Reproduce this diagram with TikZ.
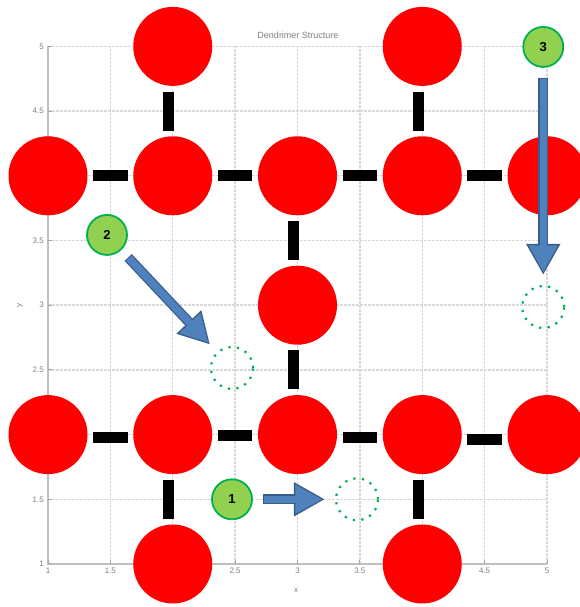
\documentclass[tikz,border=0pt]{standalone}
\usepackage{fontspec}
\setmainfont{Liberation Sans}
\usetikzlibrary{arrows.meta}
\definecolor{atomred}{HTML}{FF0000}
\definecolor{gfill}{HTML}{92D050}
\definecolor{gline}{HTML}{00B050}
\definecolor{ablue}{HTML}{4F81BD}
\definecolor{adark}{HTML}{385D8A}
\definecolor{gridc}{HTML}{D9D9D9}
\definecolor{axisc}{HTML}{BFBFBF}
\definecolor{tickc}{HTML}{7F7F7F}
\begin{document}
\begin{tikzpicture}[
  atom/.style={circle, fill=atomred, minimum size=79pt, inner sep=0pt},
  bondline/.style={line width=11pt, black, shorten <=5.5pt, shorten >=5.5pt},
  site/.style={circle, fill=gfill, draw=gline, line width=1.8pt, minimum size=40pt, inner sep=0pt, font=\bfseries\fontsize{13}{13}\selectfont},
  target/.style={circle, draw=gline, line width=2.2pt, dash pattern=on 2.2pt off 6.4pt, minimum size=42pt, inner sep=0pt},
  moveout/.style={adark, line width=10pt, -{Triangle[length=31pt,width=32pt]}, shorten <=10pt, shorten >=10pt},
  movein/.style={ablue, line width=7.5pt, -{Triangle[length=27pt,width=27pt]}, shorten <=11pt, shorten >=12.5pt},
  gridline/.style={gridc, line width=1.4pt, dash pattern=on 3pt off 1pt},
  axisline/.style={axisc, line width=2.2pt},
  ticklabel/.style={tickc, font=\fontsize{8}{8}\selectfont, inner sep=1pt},
  axlabel/.style={tickc, font=\fontsize{8}{8}\selectfont, inner sep=1pt},
  titlelabel/.style={tickc, font=\fontsize{9}{9}\selectfont, inner sep=1pt}
]
\useasboundingbox (0,0) rectangle (579pt,607pt);
\node[titlelabel] (title) at (298pt,572pt) {Dendrimer Structure};
\node[axlabel, rotate=90] (ylab) at (20pt,301pt) {y};
\node[axlabel] (xlab) at (296pt,17pt) {x};
\begin{scope}[shift={(-76.75pt,-86.4pt)}, x=124.75pt, y=129.4pt]
  % grid
  \foreach \v in {1,1.5,...,5} {
    \draw[gridline] (\v,1) -- (\v,5);
    \draw[gridline] (1,\v) -- (5,\v);
  }
  \draw[axisline] (1,5) -- (1,1) -- (5,1);
  \foreach \v [count=\i] in {1,1.5,...,5} {
    \draw[tickc!70, line width=1pt] (\v,1) -- ++(0,4pt);
    \draw[tickc!70, line width=1pt] (1,\v) -- ++(4pt,0);
    \node[ticklabel, anchor=north] (xt\i) at ([yshift=-3pt]\v,1) {\v};
    \node[ticklabel, anchor=east] (yt\i) at ([xshift=-3pt]1,\v) {\v};
  }
  % atoms
  \node[atom] (a25) at (2,5) {};
  \node[atom] (a45) at (4,5) {};
  \node[atom] (a14) at (1,4) {};
  \node[atom] (a24) at (2,4) {};
  \node[atom] (a34) at (3,4) {};
  \node[atom] (a44) at (4,4) {};
  \node[atom] (a54) at (5,4) {};
  \node[atom] (a33) at (3,3) {};
  \node[atom] (a12) at (1,2) {};
  \node[atom] (a22) at (2,2) {};
  \node[atom] (a32) at (3,2) {};
  \node[atom] (a42) at (4,2) {};
  \node[atom] (a52) at (5,2) {};
  \node[atom] (a21) at (2,1) {};
  \node[atom] (a41) at (4,1) {};
  % bonds
  \draw[bondline] (a14.east) -- (a24.west);
  \draw[bondline] (a24.east) -- (a34.west);
  \draw[bondline] (a34.east) -- (a44.west);
  \draw[bondline] (a44.east) -- (a54.west);
  \draw[bondline] ([xshift=-4pt]a25.south) -- ([xshift=-4pt]a24.north);
  \draw[bondline] ([xshift=-4pt]a45.south) -- ([xshift=-4pt]a44.north);
  \draw[bondline] ([xshift=-4pt]a34.south) -- ([xshift=-4pt]a33.north);
  \draw[bondline] ([xshift=-4pt]a33.south) -- ([xshift=-4pt]a32.north);
  \draw[bondline] ([yshift=-3pt]a12.east) -- ([yshift=-3pt]a22.west);
  \draw[bondline] ([yshift=-1pt]a22.east) -- ([yshift=-1pt]a32.west);
  \draw[bondline] ([yshift=-3pt]a32.east) -- ([yshift=-3pt]a42.west);
  \draw[bondline] ([yshift=-5pt]a42.east) -- ([yshift=-5pt]a52.west);
  \draw[bondline] ([xshift=-4pt]a22.south) -- ([xshift=-4pt]a21.north);
  \draw[bondline] ([xshift=-4pt]a42.south) -- ([xshift=-4pt]a41.north);
  % sites and targets
  \node[target] (t1) at (3.477,1.5) {};
  \node[target] (t2) at (2.475,2.515) {};
  \node[target] (t3) at (4.97,2.986) {};
  \node[site] (s1) at (2.475,1.5) {1};
  \node[site] (s2) at (1.473,3.543) {2};
  \node[site] (s3) at (4.97,4.996) {3};
  % moves
  \draw[moveout] (s1) -- (t1);
  \draw[movein] (s1) -- (t1);
  \draw[moveout] (s2) -- (t2);
  \draw[movein] (s2) -- (t2);
  \draw[moveout] (s3) -- (t3);
  \draw[movein] (s3) -- (t3);
\end{scope}
\end{tikzpicture}
\end{document}
